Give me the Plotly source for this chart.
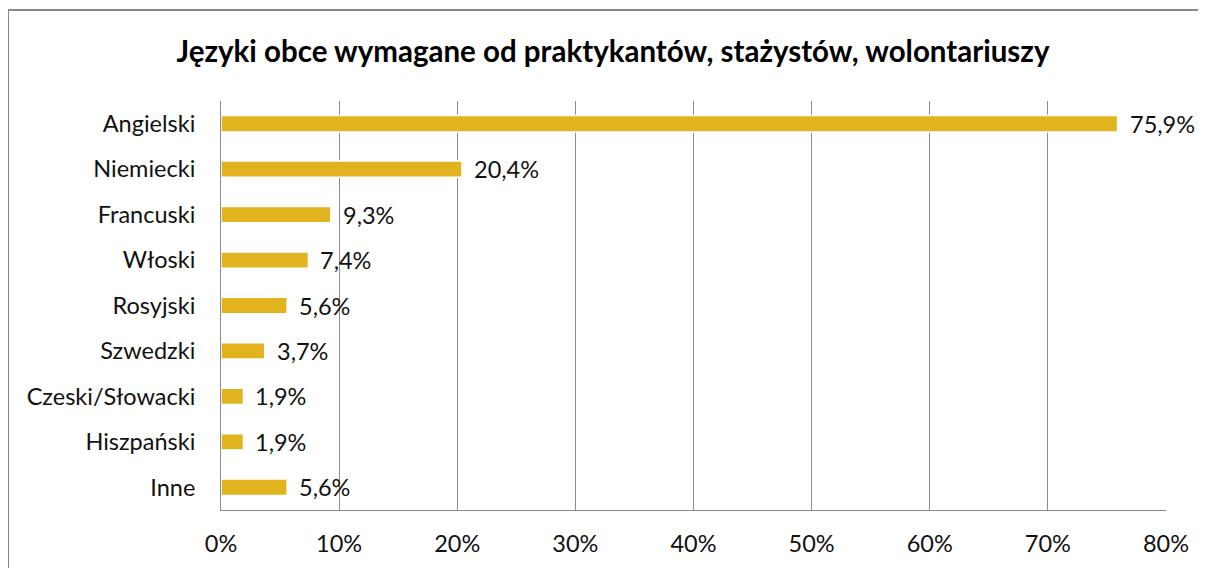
import plotly.graph_objects as go

jezyki = ["Angielski", "Niemiecki", "Francuski", "Włoski", "Rosyjski",
          "Szwedzki", "Czeski/Słowacki", "Hiszpański", "Inne"]
procent = [75.9, 20.4, 9.3, 7.4, 5.6, 3.7, 1.9, 1.9, 5.6]
tick_vals = [0, 10, 20, 30, 40, 50, 60, 70, 80]
tick_text = ["0%", "10%", "20%", "30%", "40%", "50%", "60%", "70%", "80%"]

etykiety = [f"{v:.1f}".replace(".", ",") + "%" for v in procent]

FONT = "Lato"
# strona ma 8 px marginesu body, więc figura jest o 8 px mniejsza
W, H = 1198, 560
L, R, T, B = 213, 40, 93, 58
pw, ph = W - L - R, H - T - B

fig = go.Figure(go.Bar(
    x=procent,
    y=jezyki,
    orientation="h",
    marker=dict(color="#E1B41F", line=dict(color="#FFFFFF", width=1.5)),
    width=0.36,
    hoverinfo="skip",
))

# etykiety wartości obok słupków
for j, v, t in zip(jezyki, procent, etykiety):
    fig.add_annotation(
        x=v, y=j, text=t, showarrow=False,
        xanchor="left", yanchor="middle", xshift=10,
        font=dict(family=FONT, size=23.5, color="#111111"),
    )

fig.update_layout(
    width=W, height=H,
    margin=dict(l=L, r=R, t=T, b=B),
    paper_bgcolor="white",
    plot_bgcolor="white",
    showlegend=False,
    title=dict(
        text="<b>Języki obce wymagane od praktykantów, stażystów, wolontariuszy</b>",
        x=(605 - L) / pw, xref="paper", xanchor="center",
        y=1 - 44 / H, yanchor="middle",
        font=dict(family=FONT, size=29.5, color="#000000"),
    ),
    xaxis=dict(
        range=[0, 80],
        tickvals=tick_vals,
        ticktext=tick_text,
        showgrid=True,
        gridcolor="#8C8C8C",
        gridwidth=1,
        zeroline=False,
        showline=True,
        linecolor="#8C8C8C",
        linewidth=1,
        ticks="",
        automargin=False,
        tickfont=dict(family=FONT, size=23.5, color="#111111"),
        ticklabelstandoff=13,
    ),
    yaxis=dict(
        categoryorder="array",
        categoryarray=jezyki[::-1],
        showline=True,
        linecolor="#8C8C8C",
        linewidth=1,
        showgrid=False,
        ticks="",
        automargin=False,
        ticklabelstandoff=20,
        tickfont=dict(family=FONT, size=23.5, color="#111111"),
    ),
    shapes=[dict(
        type="rect", xref="paper", yref="paper",
        x0=(0 - L) / pw, x1=(1210 - L) / pw,
        y0=-(70) / ph, y1=(ph + T - 2) / ph,
        line=dict(color="#878787", width=2),
        fillcolor="rgba(0,0,0,0)",
        layer="below",
    )],
)

fig.write_html("out.html")
